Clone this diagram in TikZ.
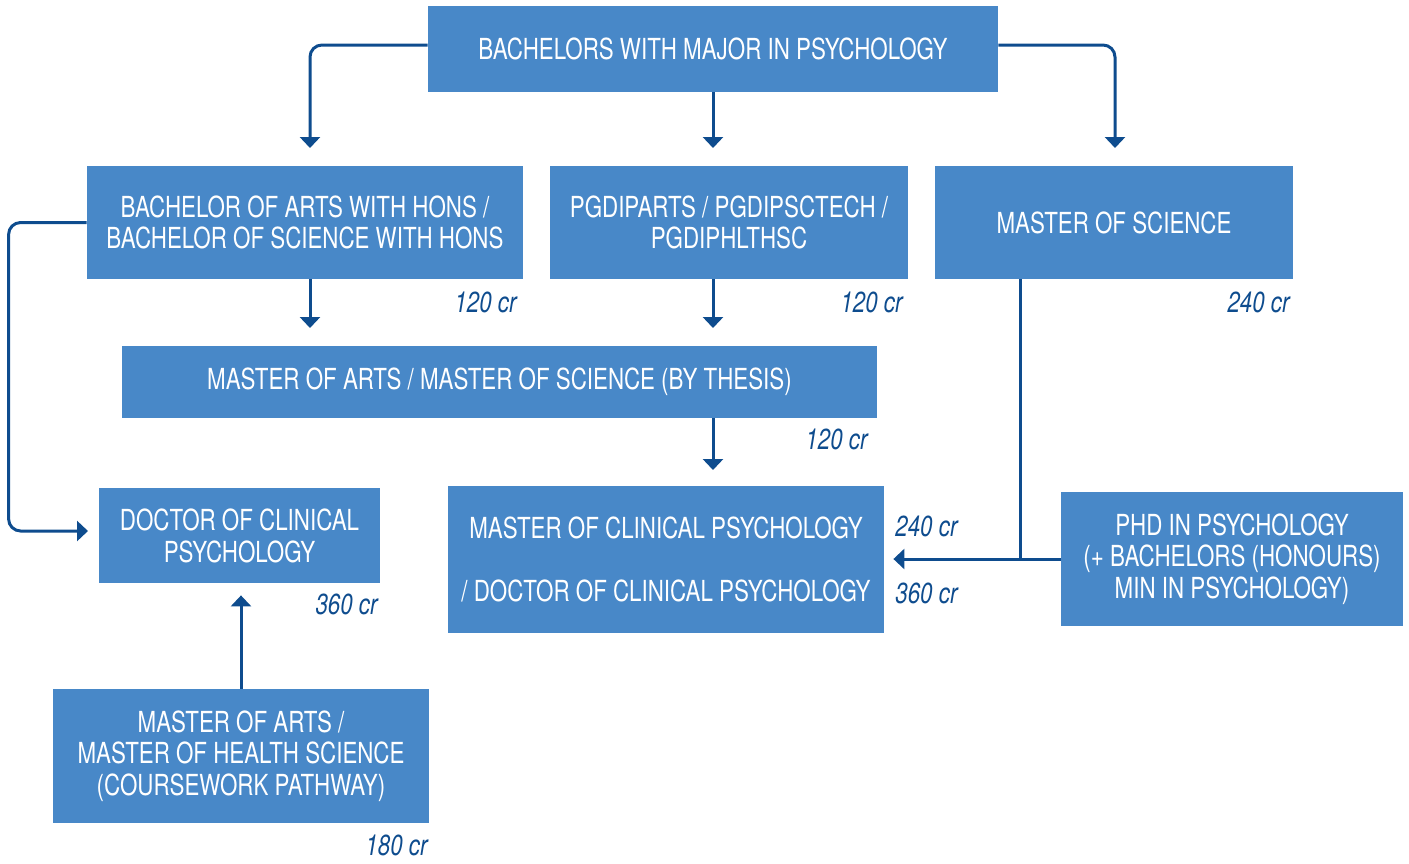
\documentclass[tikz,border=0pt]{standalone}
\usepackage{fontspec}
\setmainfont{TeX Gyre Heros}[FakeStretch=0.77]
\usetikzlibrary{arrows.meta}
\definecolor{boxblue}{HTML}{4888C8}
\definecolor{lineblue}{HTML}{0E4C8E}
\tikzset{
  box/.style={fill=boxblue, text=white, align=center, inner sep=0pt, font=\fontsize{14.5}{15.8}\selectfont},
  link/.style={draw=lineblue, line width=1.5pt, -{Triangle[width=10pt,length=5.5pt]}, rounded corners=6pt},
  line/.style={draw=lineblue, line width=1.5pt},
  credit/.style={text=lineblue, font=\fontsize{14.5}{15.8}\selectfont\itshape, inner sep=0pt}
}
\begin{document}
\begin{tikzpicture}[x=0.5pt, y=-0.5pt]
            \useasboundingbox (0,0) rectangle (1409,863);

            \node (top) at (713,49) [box, minimum width=285pt, minimum height=43pt] {BACHELORS WITH MAJOR IN PSYCHOLOGY};
            \node (bahons) at (305,222.5) [box, minimum width=218pt, minimum height=56.5pt] {BACHELOR OF ARTS WITH HONS /\\BACHELOR OF SCIENCE WITH HONS};
            \node (pgdip) at (729,222.5) [box, minimum width=179pt, minimum height=56.5pt] {PGDIPARTS / PGDIPSCTECH /\\PGDIPHLTHSC};
            \node (msc) at (1114,222.5) [box, minimum width=179pt, minimum height=56.5pt] {MASTER OF SCIENCE};
            \node (thesis) at (499.5,382) [box, minimum width=377.5pt, minimum height=36pt] {MASTER OF ARTS / MASTER OF SCIENCE (BY THESIS)};
            \node (dclin) at (239.5,535.5) [box, minimum width=140.5pt, minimum height=47.5pt, text depth=-1pt] {DOCTOR OF CLINICAL\\PSYCHOLOGY};
            \node (mclin) at (666,559.5) [box, minimum width=218pt, minimum height=73.5pt] {MASTER OF CLINICAL PSYCHOLOGY\\[15.8pt]/ DOCTOR OF CLINICAL PSYCHOLOGY};
            \node (phd) at (1232,559) [box, minimum width=171pt, minimum height=67pt] {PHD IN PSYCHOLOGY\\(+ BACHELORS (HONOURS)\\MIN IN PSYCHOLOGY)};
            \node (macourse) at (241,756) [box, minimum width=188pt, minimum height=67pt] {MASTER OF ARTS /\\MASTER OF HEALTH SCIENCE\\(COURSEWORK PATHWAY)};

            \node (cr1) at (517,302) [credit, anchor=east] {120 cr};
            \node (cr2) at (903,302) [credit, anchor=east] {120 cr};
            \node (cr3) at (1290,302) [credit, anchor=east] {240 cr};
            \node (cr4) at (868,439) [credit, anchor=east] {120 cr};
            \node (cr5) at (378,604) [credit, anchor=east] {360 cr};
            \node (cr6) at (895,526) [credit, anchor=west] {240 cr};
            \node (cr7) at (895,593) [credit, anchor=west] {360 cr};
            \node (cr8) at (428,845) [credit, anchor=east] {180 cr};

            \coordinate (p1) at (310,148);
            \coordinate (p2) at (1115,148);
            \coordinate (q1) at (310,328);
            \coordinate (q2) at (713,328);
            \coordinate (q3) at (713,470);
            \coordinate (q4) at (88,531);
            \coordinate (q5) at (1020,559);

            \draw[link] ([yshift=2pt]top.west) -| (p1);
            \draw[link] (top.south) -- (top.south |- p1);
            \draw[link] ([yshift=2pt]top.east) -| (p2);
            \draw[link] (q1 |- bahons.south) -- (q1);
            \draw[link] (q2 |- pgdip.south) -- (q2);
            \draw[link] (q3 |- thesis.south) -- (q3);
            \draw[link] (bahons.west) -- ++(-78,0) |- (q4);
            \draw[line] (q5 |- msc.south) -- (q5);
            \draw[link, shorten >=4.5pt] (phd.west) -- (phd.west -| mclin.east);
            \draw[link, shorten >=6pt] (macourse.north) -- (macourse.north |- dclin.south);

        \end{tikzpicture}
\end{document}
